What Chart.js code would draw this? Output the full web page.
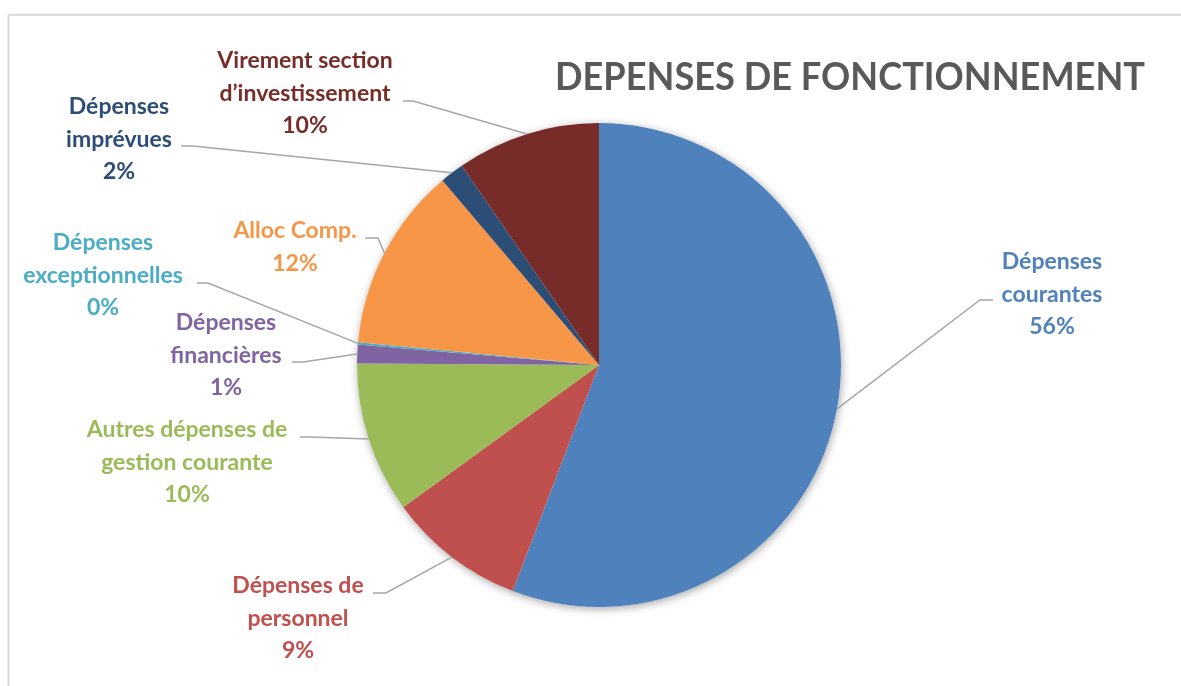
<!DOCTYPE html>
<html>
<head>
<meta charset="utf-8">
<script src="https://cdn.jsdelivr.net/npm/chart.js@4"></script>
<style>
  body { margin: 0; background: #fff; }
  canvas { display: block; }
</style>
</head>
<body>
<canvas id="depenses-chart" width="1181" height="686"></canvas>
<script>
const categories = [
    ['Dépenses', 'courantes'],
    ['Dépenses de', 'personnel'],
    ['Autres dépenses de', 'gestion courante'],
    ['Dépenses', 'financières'],
    ['Dépenses', 'exceptionnelles'],
    ['Alloc Comp.'],
    ['Dépenses', 'imprévues'],
    ['Virement section', 'd\u2019investissement']
];

// shares in percent
const values = [55.8, 9.2, 10.1, 1.25, 0.15, 12.3, 1.6, 9.6];

const sliceColors = [
    '#4F81BD', '#C0504D', '#9BBB59', '#8064A2',
    '#4BACC6', '#F79646', '#2C4D75', '#772C2A'
];

const textColors = [
    '#4F81BD', '#C0504D', '#9BBB59', '#8064A2',
    '#4BACC6', '#F79646', '#2C4D75', '#772C2A'
];

const chartTitle = 'DEPENSES DE FONCTIONNEMENT';

// label placement: text centre x, first baseline y, leader start x/y, elbow x
const labelLayout = [
    { cx: 1052, y: 269, ax: 993, ay: 300, ex: 980 },
    { cx: 298, y: 593, ax: 373, ay: 593, ex: 386 },
    { cx: 187, y: 437, ax: 300, ay: 437, ex: 310 },
    { cx: 226, y: 330, ax: 292, ay: 362, ex: 303 },
    { cx: 103, y: 250, ax: 197, ay: 283, ex: 208 },
    { cx: 295, y: 238, ax: 365, ay: 238, ex: 378 },
    { cx: 119, y: 114, ax: 181, ay: 146, ex: 193 },
    { cx: 305, y: 68, ax: 403, ay: 101, ex: 413 }
];

const lineGap = 32.5;
const labelFont = 'bold 23px Lato';

const framePlugin = {
    id: 'frame',
    beforeDraw: (chart) => {
        const ctx = chart.ctx;
        ctx.save();
        ctx.strokeStyle = '#D9D9D9';
        ctx.lineWidth = 2;
        ctx.strokeRect(8.5, 14.8, 1200, 700);

        // title squeezed a little so it spans 555..1145 like the original
        ctx.fillStyle = '#595959';
        ctx.font = 'bold 39px Lato';
        ctx.textBaseline = 'alphabetic';
        ctx.textAlign = 'left';
        const w = ctx.measureText(chartTitle).width;
        ctx.translate(555, 90);
        ctx.scale(590 / w, 1);
        ctx.fillText(chartTitle, 0, 0);
        ctx.restore();
    },
    beforeDatasetsDraw: (chart) => {
        // soft shadow under the pie
        const arc = chart.getDatasetMeta(0).data[0];
        const ctx = chart.ctx;
        ctx.save();
        ctx.shadowColor = 'rgba(0,0,0,0.35)';
        ctx.shadowBlur = 9;
        ctx.shadowOffsetX = 1;
        ctx.shadowOffsetY = 2;
        ctx.fillStyle = '#fff';
        ctx.beginPath();
        ctx.arc(arc.x, arc.y, arc.outerRadius, 0, Math.PI * 2);
        ctx.fill();
        ctx.restore();
    },
    afterDatasetsDraw: (chart) => {
        const ctx = chart.ctx;
        const arcs = chart.getDatasetMeta(0).data;
        ctx.save();
        arcs.forEach((arc, i) => {
            const lay = labelLayout[i];
            const mid = (arc.startAngle + arc.endAngle) / 2;
            const px = arc.x + Math.cos(mid) * arc.outerRadius;
            const py = arc.y + Math.sin(mid) * arc.outerRadius;

            ctx.strokeStyle = '#A6A6A6';
            ctx.lineWidth = 1.5;
            ctx.beginPath();
            ctx.moveTo(lay.ax, lay.ay);
            ctx.lineTo(lay.ex, lay.ay);
            ctx.lineTo(px, py);
            ctx.stroke();

            const lines = categories[i].concat([Math.round(values[i]) + '%']);
            ctx.fillStyle = textColors[i];
            ctx.font = labelFont;
            ctx.textAlign = 'center';
            ctx.textBaseline = 'alphabetic';
            lines.forEach((t, k) => {
                ctx.fillText(t, lay.cx, lay.y + k * lineGap);
            });
        });
        ctx.restore();
    }
};

const data = {
    labels: categories.map(c => c.join(' ')),
    datasets: [{
        data: values,
        backgroundColor: sliceColors,
        borderWidth: 0,
        hoverOffset: 0
    }]
};

const config = {
    type: 'pie',
    data: data,
    options: {
        responsive: false,
        animation: false,
        layout: {
            padding: { left: 357, right: 340, top: 123, bottom: 79 }
        },
        plugins: {
            legend: { display: false },
            tooltip: { enabled: false }
        }
    },
    plugins: [framePlugin]
};

new Chart(document.getElementById('depenses-chart'), config);
</script>
</body>
</html>
